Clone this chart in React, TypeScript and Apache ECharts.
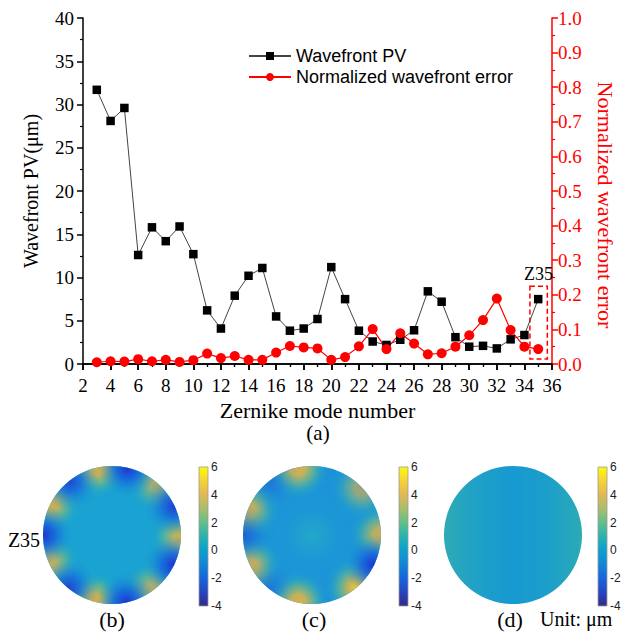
import React, { useEffect, useRef } from "react";
import * as echarts from "echarts";

// ---- data ----
const modes = [3, 4, 5, 6, 7, 8, 9, 10, 11, 12, 13, 14, 15, 16, 17, 18, 19, 20, 21, 22, 23, 24, 25, 26, 27, 28, 29, 30, 31, 32, 33, 34, 35];
const wavefrontPV = [31.7, 28.1, 29.6, 12.6, 15.8, 14.2, 15.9, 12.7, 6.2, 4.1, 7.9, 10.2, 11.1, 5.5, 3.85, 4.1, 5.2, 11.2, 7.5, 3.85, 2.6, 2.2, 2.8, 3.9, 8.4, 7.2, 3.1, 2.0, 2.1, 1.8, 2.85, 3.35, 7.5];
const normalizedError = [0.005, 0.008, 0.007, 0.014, 0.008, 0.012, 0.006, 0.011, 0.03, 0.017, 0.023, 0.012, 0.012, 0.033, 0.052, 0.048, 0.045, 0.012, 0.02, 0.051, 0.101, 0.043, 0.089, 0.059, 0.028, 0.031, 0.05, 0.083, 0.127, 0.189, 0.098, 0.05, 0.043];
const seriesNames = ["Wavefront PV", "Normalized wavefront error"];
const highlightLabel = "Z35";
const highlightBox = { x0: 34.4, x1: 35.66, y0: 0.58, y1: 9.0 };
const colorbarTicks = [6, 4, 2, 0, -2, -4];
const colorbarRange = [-4, 6];
const panelLabels = ["(b)", "(c)", "(d)"];
// spot angles (deg) of the surface maps
const bHigh = [102, 153, 204, 255, 306, 357, 48];
const bHighStrength = [1, 0.95, 0.9, 1, 0.8, 0.95, 0.75];
const bLow = [77, 128, 180, 231, 282, 334, 25];
const bLowStrength = [1, 0.85, 1, 0.85, 1, 1, 0.9];
const cHigh = [102, 158, 207, 258, 310, 0, 43];
const cHighStrength = [1, 0.9, 0.9, 1, 1, 0.9, 0.7];
const cLow = [180, 334, 128, 231];
const cLowStrength = [0.55, 1, 0.3, 0.3];

const SERIF = "'Liberation Serif', 'Times New Roman', serif";
const SANS = "'Liberation Sans', Arial, sans-serif";

function spot(cx: number, cy: number, R: number, deg: number, hi: boolean, s: number, yellow = false) {
  const rad = (deg * Math.PI) / 180;
  const px = cx + R * Math.cos(rad);
  const py = cy - R * Math.sin(rad);
  const gr = hi ? 32 : 30;
  const stops = hi
    ? [
        { offset: 0, color: yellow ? `rgba(250,200,45,${s})` : `rgba(222,172,70,${s})` },
        { offset: 0.25, color: `rgba(205,180,85,${0.95 * s})` },
        { offset: 0.5, color: `rgba(120,185,130,${0.75 * s})` },
        { offset: 0.75, color: `rgba(50,175,180,${0.4 * s})` },
        { offset: 1, color: "rgba(25,160,210,0)" },
      ]
    : [
        { offset: 0, color: `rgba(35,50,205,${s})` },
        { offset: 0.4, color: `rgba(20,90,225,${0.75 * s})` },
        { offset: 1, color: "rgba(25,150,215,0)" },
      ];
  const w = 0.6;
  return {
    type: "sector",
    silent: true,
    z: 2,
    shape: { cx, cy, r: R, r0: R - 36, startAngle: -rad - w, endAngle: -rad + w, clockwise: true },
    style: { fill: new echarts.graphic.RadialGradient(px, py, gr, stops, true) },
  };
}

function colorbar(x: number, top: number, h: number) {
  const els: any[] = [];
  els.push({
    type: "rect",
    silent: true,
    z: 5,
    shape: { x, y: top, width: 9, height: h },
    style: {
      fill: new echarts.graphic.LinearGradient(0, 0, 0, 1, [
        { offset: 0, color: "#f9fb0e" },
        { offset: 0.1, color: "#f6d235" },
        { offset: 0.2, color: "#dfb855" },
        { offset: 0.3, color: "#a8be6a" },
        { offset: 0.4, color: "#62bf8a" },
        { offset: 0.5, color: "#26b3b0" },
        { offset: 0.6, color: "#0ba0cf" },
        { offset: 0.7, color: "#1285d6" },
        { offset: 0.8, color: "#1565dd" },
        { offset: 0.9, color: "#2546c0" },
        { offset: 1, color: "#352a87" },
      ]),
      stroke: "#999",
      lineWidth: 0.8,
    },
  });
  const span = colorbarRange[1] - colorbarRange[0];
  colorbarTicks.forEach((v) => {
    els.push({
      type: "text",
      silent: true,
      z: 6,
      x: x + 12,
      y: top + ((colorbarRange[1] - v) / span) * h,
      style: { text: String(v), font: `12px ${SANS}`, fill: "#222", verticalAlign: "middle", align: "left" },
    });
  });
  return els;
}

function buildGraphics() {
  const cy = 535;
  const R = 69;
  const cxB = 112, cxC = 312, cxD = 513;
  const els: any[] = [];
  // (b)
  els.push({ type: "circle", silent: true, z: 1, shape: { cx: cxB, cy, r: R }, style: { fill: "#19a2d2" } });
  bHigh.forEach((d, i) => els.push(spot(cxB, cy, R, d, true, bHighStrength[i])));
  bLow.forEach((d, i) => els.push(spot(cxB, cy, R, d, false, bLowStrength[i])));
  // (c)
  els.push({
    type: "circle", silent: true, z: 1, shape: { cx: cxC, cy, r: R },
    style: {
      fill: new echarts.graphic.RadialGradient(0.5, 0.5, 0.5, [
        { offset: 0, color: "#22a8c8" },
        { offset: 0.35, color: "#1c98d6" },
        { offset: 1, color: "#1d90d8" },
      ]),
    },
  });
  cHigh.forEach((d, i) => els.push(spot(cxC, cy, R, d, true, cHighStrength[i], d === 310)));
  cLow.forEach((d, i) => els.push(spot(cxC, cy, R, d, false, cLowStrength[i])));
  // (d)
  els.push({
    type: "circle", silent: true, z: 1, shape: { cx: cxD, cy, r: R },
    style: {
      fill: new echarts.graphic.LinearGradient(0, 0, 1, 0, [
        { offset: 0, color: "#2eaab5" },
        { offset: 0.25, color: "#1ea0c8" },
        { offset: 0.5, color: "#1799d2" },
        { offset: 0.75, color: "#1c9fca" },
        { offset: 1, color: "#2caab6" },
      ]),
    },
  });
  els.push(...colorbar(199, 467, 139));
  els.push(...colorbar(399, 467, 139));
  els.push(...colorbar(598, 467, 139));
  // labels
  const lab = (text: string, x: number, y: number, size: number, align = "center") => ({
    type: "text", silent: true, z: 6, x, y,
    style: { text, font: `${size}px ${SERIF}`, fill: "#000", align, verticalAlign: "middle" },
  });
  els.push(lab("(a)", 318, 433, 21));
  els.push(lab(panelLabels[0], cxB, 619, 22));
  els.push(lab(panelLabels[1], cxC + 2, 619, 22));
  els.push(lab(panelLabels[2], 510, 619, 22));
  els.push(lab("Unit: μm", 540, 619, 20, "left"));
  els.push(lab(highlightLabel, 24, 540, 20));
  return els;
}

export default function App() {
  const ref = useRef<HTMLDivElement>(null);
  useEffect(() => {
    if (!ref.current) return;
    const chart = echarts.init(ref.current, null, { renderer: "svg" });
    const axisBlack = { lineStyle: { color: "#000", width: 1.5 } };
    const option: any = {
      animation: false,
      backgroundColor: "#fff",
      grid: { left: 83, right: 69, top: 18, bottom: 269, containLabel: false },
      legend: {
        orient: "vertical",
        left: 243,
        top: 42,
        itemWidth: 42,
        itemHeight: 10,
        itemGap: 3,
        data: seriesNames,
        textStyle: { fontFamily: SANS, fontSize: 18, color: "#000" },
      },
      xAxis: [
        {
          type: "value", min: 2, max: 36, interval: 2, position: "bottom",
          name: "Zernike mode number", nameLocation: "middle", nameGap: 34,
          nameTextStyle: { fontFamily: SERIF, fontSize: 22, color: "#000" },
          axisLine: axisBlack,
          axisTick: { inside: false, length: 6, lineStyle: { color: "#000", width: 1.5 } },
          minorTick: { show: true, splitNumber: 2, length: 3, lineStyle: { color: "#000", width: 1.2 } },
          axisLabel: { fontFamily: SERIF, fontSize: 19, color: "#000", margin: 12 },
          splitLine: { show: false },
        },
        {
          type: "value", min: 2, max: 36, interval: 2, position: "top",
          axisLine: axisBlack,
          axisTick: { inside: true, length: 6, lineStyle: { color: "#000", width: 1.5 } },
          minorTick: { show: true, splitNumber: 2, length: 3, lineStyle: { color: "#000", width: 1.2 } },
          axisLabel: { show: false },
          splitLine: { show: false },
        },
      ],
      yAxis: [
        {
          type: "value", min: 0, max: 40, interval: 5, position: "left",
          name: "Wavefront PV(μm)", nameLocation: "middle", nameGap: 42, nameRotate: 90,
          nameTextStyle: { fontFamily: SERIF, fontSize: 20, color: "#000" },
          axisLine: { show: true, ...axisBlack },
          axisTick: { show: true, inside: false, length: 6, lineStyle: { color: "#000", width: 1.5 } },
          minorTick: { show: true, splitNumber: 2, length: 3, lineStyle: { color: "#000", width: 1.2 } },
          axisLabel: { fontFamily: SERIF, fontSize: 19, color: "#000", margin: 9 },
          splitLine: { show: false },
        },
        {
          type: "value", min: 0, max: 1, interval: 0.1, position: "right",
          name: "Normalized wavefront error", nameLocation: "middle", nameGap: 42, nameRotate: -90,
          nameTextStyle: { fontFamily: SERIF, fontSize: 22, color: "#ff0000", padding: [0, 0, 0, 28] },
          axisLine: { show: true, lineStyle: { color: "#ff0000", width: 1.5 } },
          axisTick: { show: true, inside: false, length: 6, lineStyle: { color: "#ff0000", width: 1.5 } },
          minorTick: { show: true, splitNumber: 2, length: 3, lineStyle: { color: "#ff0000", width: 1.2 } },
          axisLabel: { fontFamily: SERIF, fontSize: 19, color: "#ff0000", margin: 6, formatter: (v: number) => v.toFixed(1) },
          splitLine: { show: false },
        },
      ],
      series: [
        {
          name: seriesNames[0], type: "line", xAxisIndex: 0, yAxisIndex: 0,
          data: modes.map((m, i) => [m, wavefrontPV[i]]),
          symbol: "rect", symbolSize: 8.5,
          itemStyle: { color: "#000" },
          lineStyle: { color: "#444", width: 1 },
          markArea: {
            silent: true,
            itemStyle: { color: "rgba(0,0,0,0)", borderColor: "#ff0000", borderWidth: 1.5, borderType: [5, 3] },
            label: { show: true, position: "top", distance: 2, color: "#000", fontFamily: SERIF, fontSize: 18 },
            data: [[{ name: highlightLabel, xAxis: highlightBox.x0, yAxis: highlightBox.y1 }, { xAxis: highlightBox.x1, yAxis: highlightBox.y0 }]],
          },
        },
        {
          name: seriesNames[1], type: "line", xAxisIndex: 0, yAxisIndex: 1,
          data: modes.map((m, i) => [m, normalizedError[i]]),
          symbol: "circle", symbolSize: 10,
          itemStyle: { color: "#ff0000" },
          lineStyle: { color: "#ff0000", width: 1.2 },
        },
      ],
      graphic: buildGraphics(),
    };
    chart.setOption(option);
    return () => chart.dispose();
  }, []);
  return <div ref={ref} style={{ position: "fixed", left: 0, top: 0, width: 624, height: 633 }} />;
}
